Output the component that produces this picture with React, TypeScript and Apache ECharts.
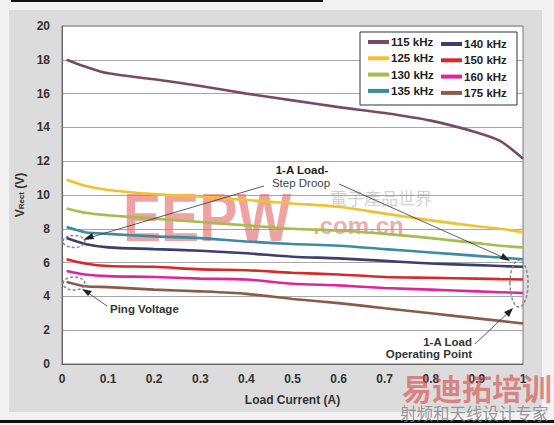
import React, { useEffect, useRef } from "react";
import * as echarts from "echarts";

const loadCurrent = [0.01, 0.05, 0.1, 0.2, 0.3, 0.4, 0.5, 0.6, 0.7, 0.8, 0.9, 0.95, 1.0];
const seriesNames = ["115 kHz", "125 kHz", "130 kHz", "135 kHz", "140 kHz", "150 kHz", "160 kHz", "175 kHz"];
const v115 = [18.0, 17.6, 17.2, 16.85, 16.45, 16.0, 15.6, 15.2, 14.85, 14.4, 13.7, 13.2, 12.15];
const v125 = [10.9, 10.55, 10.3, 10.05, 9.9, 9.7, 9.5, 9.3, 8.9, 8.5, 8.15, 8.0, 7.8];
const v130 = [9.2, 8.95, 8.8, 8.6, 8.4, 8.2, 8.0, 7.9, 7.7, 7.45, 7.15, 7.0, 6.9];
const v135 = [8.1, 7.8, 7.7, 7.55, 7.45, 7.25, 7.1, 7.0, 6.8, 6.6, 6.4, 6.3, 6.2];
const v140 = [7.45, 7.1, 6.9, 6.8, 6.7, 6.55, 6.35, 6.25, 6.1, 5.95, 5.85, 5.8, 5.75];
const v150 = [6.2, 5.95, 5.8, 5.75, 5.6, 5.55, 5.4, 5.3, 5.15, 5.1, 5.05, 5.02, 5.0];
const v160 = [5.5, 5.3, 5.2, 5.15, 5.05, 5.0, 4.75, 4.65, 4.5, 4.4, 4.3, 4.25, 4.2];
const v175 = [4.85, 4.6, 4.55, 4.4, 4.3, 4.15, 3.85, 3.6, 3.3, 3.0, 2.7, 2.55, 2.4];
const seriesValues = [v115, v125, v130, v135, v140, v150, v160, v175];
const seriesColors = ["#7a4a63", "#f2c12e", "#a9ba4e", "#3c8ba3", "#3d3d6e", "#d62a2a", "#e0259b", "#8c5a48"];

const FONT = "Liberation Sans, Arial, sans-serif";

export default function App() {
  const ref = useRef<HTMLDivElement>(null);
  useEffect(() => {
    document.body.style.margin = "0";
    const chart = echarts.init(ref.current!, null, { renderer: "svg" });
    const series = seriesNames.map((name, i) => ({
      name,
      type: "line",
      data: loadCurrent.map((x, j) => [x, seriesValues[i][j]]),
      smooth: 0.3,
      symbol: "none",
      lineStyle: { width: 2.6, color: seriesColors[i] },
      itemStyle: { color: seriesColors[i] },
      z: 3,
    }));
    const legendBase = {
      orient: "vertical",
      icon: "rect",
      itemWidth: 21,
      itemHeight: 4,
      itemGap: 4.3,
      z: 20,
      textStyle: { fontFamily: FONT, fontSize: 11.5, fontWeight: "bold", color: "#222", lineHeight: 12, padding: [0, 0, 0, -3] },
      padding: 0,
    };
    chart.setOption({
      animation: false,
      backgroundColor: "#f2f2f2",
      textStyle: { fontFamily: FONT },
      grid: { left: 62, top: 26, width: 461, height: 338, show: true, backgroundColor: "#fff", borderColor: "#777", borderWidth: 1 },
      legend: [
        { ...legendBase, data: seriesNames.slice(0, 4), left: 368, top: 36 },
        { ...legendBase, data: seriesNames.slice(4), left: 441, top: 38 },
      ],
      xAxis: {
        type: "value",
        min: 0,
        max: 1,
        interval: 0.1,
        name: "Load Current (A)",
        nameLocation: "middle",
        nameGap: 30,
        nameTextStyle: { fontFamily: FONT, fontSize: 12, fontWeight: "bold", color: "#333" },
        axisLine: { lineStyle: { color: "#666" } },
        axisTick: { show: false },
        splitLine: { show: false },
        axisLabel: {
          margin: 9,
          fontFamily: FONT,
          fontSize: 12,
          fontWeight: "bold",
          color: "#333",
          formatter: (v: number) => (v === 0 ? "0" : v === 1 ? "1" : v.toFixed(1)),
        },
      },
      yAxis: {
        type: "value",
        min: 0,
        max: 20,
        interval: 2,
        name: "{a|V}{b|Rect}{a| (V)}",
        nameLocation: "middle",
        nameRotate: 90,
        nameGap: 30,
        nameTextStyle: {
          rich: {
            a: { fontFamily: FONT, fontSize: 12, fontWeight: "bold", color: "#333" },
            b: { fontFamily: FONT, fontSize: 8, fontWeight: "bold", color: "#333", verticalAlign: "bottom", padding: [4, 0, 0, 0] },
          },
        },
        axisLine: { show: true, lineStyle: { color: "#666" } },
        axisTick: { show: false },
        splitLine: { lineStyle: { color: "#a8a8a8", width: 1 } },
        axisLabel: { margin: 12, fontFamily: FONT, fontSize: 12, fontWeight: "bold", color: "#333" },
      },
      series,
      graphic: [
        { type: "rect", z: -10, silent: true, shape: { x: 9, y: 10, width: 533, height: 402 }, style: { fill: "#dcdcdc" } },
        { type: "rect", z: -9, silent: true, shape: { x: 11, y: 0, width: 312, height: 2 }, style: { fill: "#111" } },
        { type: "rect", z: -9, silent: true, shape: { x: 0, y: 420, width: 554, height: 3 }, style: { fill: "#111" } },
        // watermarks
        { type: "text", z: 1, silent: true, x: 123, y: 183, scaleX: 0.84, style: { text: "EEPW", fontFamily: FONT, fontSize: 68, fontWeight: 900, fill: "rgba(228,105,105,0.62)" } },
        { type: "text", z: 1, silent: true, x: 313, y: 213, style: { text: ".com.cn", fontFamily: FONT, fontSize: 24, fontWeight: "bold", fill: "rgba(226,120,120,0.6)" } },
        { type: "text", z: 1, silent: true, x: 330, y: 189, style: { text: "電子產品世界", fontFamily: "Noto Sans CJK TC", fontSize: 17, fill: "rgba(150,150,150,0.45)" } },
        { type: "text", z: 20, silent: true, x: 402, y: 372, style: { text: "易迪拓培训", fontFamily: "Noto Sans CJK SC", fontSize: 30, fontWeight: "bold", fill: "rgba(215,70,70,0.6)" } },
        { type: "text", z: 20, silent: true, x: 400, y: 405, style: { text: "射频和天线设计专家", fontFamily: "Noto Sans CJK SC", fontSize: 16.5, fill: "rgba(130,130,130,0.8)" } },
        // legend box
        { type: "rect", z: 4, silent: true, shape: { x: 360, y: 32, width: 157, height: 73 }, style: { fill: "#fff", stroke: "#333", lineWidth: 1 } },
        // annotations
        { type: "text", z: 10, x: 302, y: 164, style: { text: "1-A Load-", fontFamily: FONT, fontSize: 11.5, fontWeight: "bold", fill: "#222", align: "center" } },
        { type: "text", z: 10, x: 301, y: 177, style: { text: "Step Droop", fontFamily: FONT, fontSize: 11.5, fill: "#444", align: "center" } },
        { type: "line", z: 10, shape: { x1: 264, y1: 186, x2: 85, y2: 239 }, style: { stroke: "#333", lineWidth: 0.8 } },
        { type: "polygon", z: 10, shape: { points: [[83, 240], [92, 233], [94, 239]] }, style: { fill: "#222" } },
        { type: "line", z: 10, shape: { x1: 339, y1: 184, x2: 509, y2: 260 }, style: { stroke: "#333", lineWidth: 0.8 } },
        { type: "polygon", z: 10, shape: { points: [[510, 261], [500, 259], [503, 253]] }, style: { fill: "#222" } },
        { type: "ellipse", z: 10, shape: { cx: 74, cy: 241.5, rx: 11, ry: 6 }, style: { fill: "none", stroke: "#888", lineWidth: 1.5, lineDash: [3, 2] } },
        { type: "ellipse", z: 10, shape: { cx: 74, cy: 283.5, rx: 11, ry: 6.5 }, style: { fill: "none", stroke: "#888", lineWidth: 1.5, lineDash: [3, 2] } },
        { type: "ellipse", z: 10, shape: { cx: 519, cy: 283.5, rx: 9, ry: 23.5 }, style: { fill: "none", stroke: "#888", lineWidth: 1.5, lineDash: [3, 2] } },
        { type: "text", z: 10, x: 110, y: 303, style: { text: "Ping Voltage", fontFamily: FONT, fontSize: 11.5, fontWeight: "bold", fill: "#333" } },
        { type: "line", z: 10, shape: { x1: 107, y1: 306, x2: 84, y2: 290 }, style: { stroke: "#333", lineWidth: 0.8 } },
        { type: "polygon", z: 10, shape: { points: [[82, 289], [92, 291], [88, 296]] }, style: { fill: "#222" } },
        { type: "text", z: 10, x: 472, y: 336, style: { text: "1-A Load", fontFamily: FONT, fontSize: 11.5, fontWeight: "bold", fill: "#333", align: "right" } },
        { type: "text", z: 10, x: 472, y: 348, style: { text: "Operating Point", fontFamily: FONT, fontSize: 11.5, fontWeight: "bold", fill: "#333", align: "right" } },
        { type: "line", z: 10, shape: { x1: 475, y1: 344, x2: 512, y2: 309 }, style: { stroke: "#333", lineWidth: 0.8 } },
        { type: "polygon", z: 10, shape: { points: [[513, 308], [509, 317], [504, 312]] }, style: { fill: "#222" } },
      ],
    });
    return () => chart.dispose();
  }, []);
  return <div ref={ref} style={{ position: "fixed", left: 0, top: 0, width: 554, height: 425 }} />;
}
